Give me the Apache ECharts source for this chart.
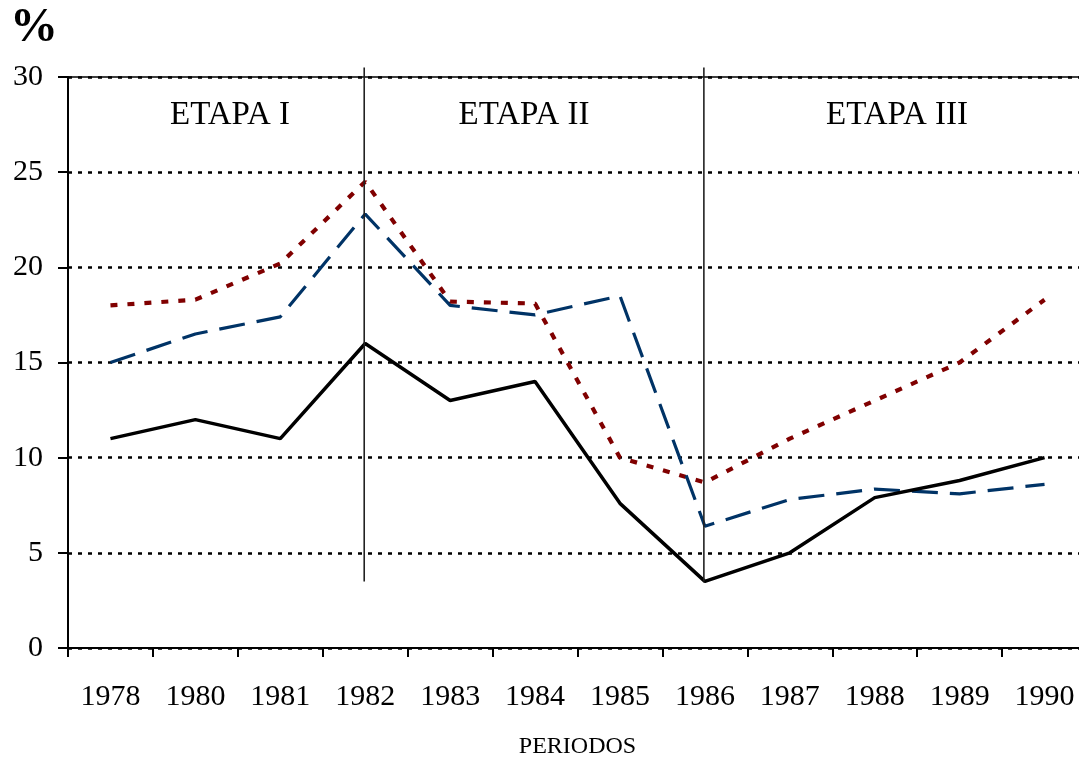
<!DOCTYPE html>
<html>
<head>
<meta charset="utf-8">
<script src="https://cdn.jsdelivr.net/npm/echarts@6/dist/echarts.min.js"></script>
<style>
html,body{margin:0;padding:0;background:#fff;}
#chart{width:1079px;height:763px;}
</style>
</head>
<body>
<div id="chart"></div>
<script>
const categories = ['1978','1980','1981','1982','1983','1984','1985','1986','1987','1988','1989','1990'];
const serieSolid  = [11.0, 12.0, 11.0, 16.0, 13.0, 14.0, 7.6, 3.5, 5.0, 7.9, 8.8, 10.0];
const serieDashed = [15.0, 16.5, 17.4, 22.8, 18.0, 17.5, 18.5, 6.4, 7.8, 8.35, 8.1, 8.6];
const serieDotted = [18.0, 18.3, 20.2, 24.5, 18.2, 18.1, 10.0, 8.7, 11.0, 13.0, 15.0, 18.3];
const stageNames = ['ETAPA I', 'ETAPA II', 'ETAPA III'];
const stageDividers = ['1982', '1986'];
const dividerRange = [3.5, 30.5];
const yTicks = [0, 5, 10, 15, 20, 25, 30];

const FONT = '"Liberation Serif", "Times New Roman", serif';
const chart = echarts.init(document.getElementById('chart'), null, {renderer: 'canvas'});

const option = {
  backgroundColor: '#ffffff',
  animation: false,
  grid: {left: 68, right: -8, top: 77, bottom: 115, show: true, borderColor: '#000', borderWidth: 1.5,
    backgroundColor: 'transparent', containLabel: false, outerBoundsMode: 'none'},
  xAxis: {
    type: 'category',
    data: categories,
    boundaryGap: true,
    name: 'PERIODOS',
    nameLocation: 'middle',
    nameGap: 87,
    nameTextStyle: {fontFamily: FONT, fontSize: 24, color: '#000', verticalAlign: 'top'},
    axisLine: {lineStyle: {color: '#000', width: 2}},
    axisTick: {show: true, length: 9, lineStyle: {color: '#000', width: 2}},
    axisLabel: {fontFamily: FONT, fontSize: 30, color: '#000', margin: 34},
    splitLine: {show: false}
  },
  yAxis: {
    type: 'value',
    min: 0, max: 30, interval: 5,
    axisLine: {show: true, lineStyle: {color: '#000', width: 2}},
    axisTick: {show: true, length: 10, lineStyle: {color: '#000', width: 2}},
    axisLabel: {fontFamily: FONT, fontSize: 30, color: '#000', margin: 25,
      formatter: v => yTicks.includes(v) ? String(v) : ''},
    splitLine: {show: true, lineStyle: {color: '#000', width: 2.5, type: [4, 6]}}
  },
  series: [
    {name: 'solid', type: 'line', data: serieSolid, symbol: 'none',
     lineStyle: {color: '#000', width: 3.5, type: 'solid'}, z: 5},
    {name: 'dashed', type: 'line', data: serieDashed, symbol: 'none',
     lineStyle: {color: '#003366', width: 3.2, type: [26, 12]}, z: 4},
    {name: 'dotted', type: 'line', data: serieDotted, symbol: 'none',
     lineStyle: {color: '#800000', width: 4.2, type: [7, 10]}, z: 3}
  ]
};
chart.setOption(option);

function drawOverlay() {
  const els = [];
  stageDividers.forEach(c => {
    const x = chart.convertToPixel({xAxisIndex: 0}, c) - 1;
    const y1 = chart.convertToPixel({yAxisIndex: 0}, dividerRange[0]);
    const y2 = chart.convertToPixel({yAxisIndex: 0}, dividerRange[1]);
    els.push({type: 'line', shape: {x1: x, y1: y1, x2: x, y2: y2},
      style: {stroke: '#222', lineWidth: 1.6}, z: 10});
  });
  const stageX = [230, 524, 897];
  stageNames.forEach((t, i) => {
    els.push({type: 'text', x: stageX[i], y: 115, style: {text: t, fontFamily: FONT, fontSize: 33,
      fill: '#000', align: 'center', verticalAlign: 'middle'}, z: 10});
  });
  els.push({type: 'text', x: 34, y: 29, style: {text: '%', fontFamily: FONT, fontSize: 48, fontWeight: 'bold',
    fill: '#000', align: 'center', verticalAlign: 'middle'}, z: 10});
  chart.setOption({graphic: els});
}
drawOverlay();
</script>
</body>
</html>
